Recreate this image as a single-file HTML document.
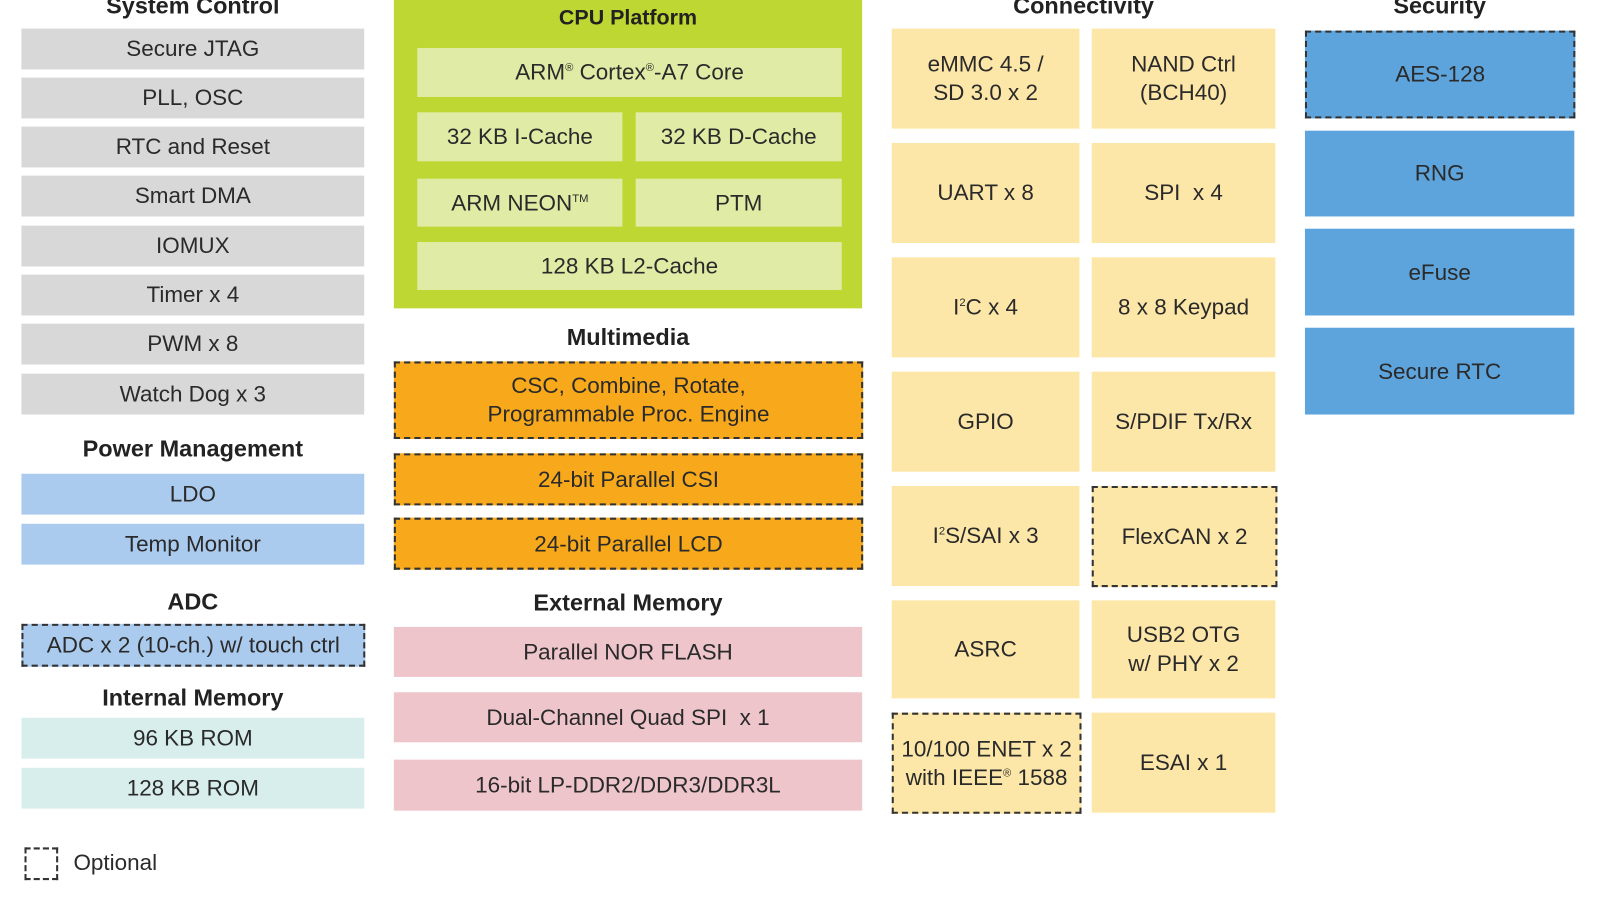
<!DOCTYPE html>
<html><head><meta charset="utf-8"><style>
body{margin:0;width:1600px;height:900px;background:#fff;position:relative;overflow:hidden;font-family:"Liberation Sans",sans-serif;color:#2a2a2a}
#w{position:absolute;left:0;top:0;width:1600px;height:900px;transform:scale(1.0203,1.021);transform-origin:0 0}
.b{position:absolute;display:flex;align-items:center;justify-content:center;text-align:center;font-size:22px;line-height:28px;box-sizing:border-box}
.t{position:absolute;font-weight:bold;font-size:23px;text-align:center;color:#222}
.g{background:#d8d8d8}.lb{background:#abcbee}.tl{background:#d7eeec}
.gi{background:#e0eba6}.o{background:#f8a91b}.p{background:#efc5cc}
.y{background:#fde7a8}.bl{background:#5ea4dc}
.d{border:2.5px dashed #333}
sup{font-size:11px;line-height:0;vertical-align:super}
</style></head><body><div id="w">
<div class="t" style="left:21px;width:336px;top:-8px">System Control</div>
<div class="b g" style="left:21px;top:28px;width:336px;height:40px">Secure JTAG</div>
<div class="b g" style="left:21px;top:76px;width:336px;height:40px">PLL, OSC</div>
<div class="b g" style="left:21px;top:124px;width:336px;height:40px">RTC and Reset</div>
<div class="b g" style="left:21px;top:172px;width:336px;height:40px">Smart DMA</div>
<div class="b g" style="left:21px;top:221px;width:336px;height:40px">IOMUX</div>
<div class="b g" style="left:21px;top:269px;width:336px;height:40px">Timer x 4</div>
<div class="b g" style="left:21px;top:317px;width:336px;height:40px">PWM x 8</div>
<div class="b g" style="left:21px;top:366px;width:336px;height:40px">Watch Dog x 3</div>
<div class="t" style="left:21px;width:336px;top:426px">Power Management</div>
<div class="b lb" style="left:21px;top:464px;width:336px;height:40px">LDO</div>
<div class="b lb" style="left:21px;top:513px;width:336px;height:40px">Temp Monitor</div>
<div class="t" style="left:21px;width:336px;top:576px">ADC</div>
<div class="b lb d" style="left:21px;top:611px;width:337px;height:42px">ADC x 2 (10-ch.) w/ touch ctrl</div>
<div class="t" style="left:21px;width:336px;top:670px">Internal Memory</div>
<div class="b tl" style="left:21px;top:703px;width:336px;height:40px">96 KB ROM</div>
<div class="b tl" style="left:21px;top:752px;width:336px;height:40px">128 KB ROM</div>
<div class="d" style="position:absolute;left:24px;top:830px;width:33px;height:32px;box-sizing:border-box"></div>
<div class="b" style="left:72px;top:831px;height:28px">Optional</div>

<div style="position:absolute;left:386px;top:0;width:459px;height:302px;background:#bed732"></div>
<div class="t" style="left:386px;width:459px;top:6px;font-size:21px">CPU Platform</div>
<div class="b gi" style="left:409px;top:47px;width:416px;height:48px"><span>ARM<sup>®</sup> Cortex<sup>®</sup>-A7 Core</span></div>
<div class="b gi" style="left:409px;top:110px;width:201px;height:48px">32 KB I-Cache</div>
<div class="b gi" style="left:623px;top:110px;width:202px;height:48px">32 KB D-Cache</div>
<div class="b gi" style="left:409px;top:175px;width:201px;height:47px"><span>ARM NEON<sup>TM</sup></span></div>
<div class="b gi" style="left:623px;top:175px;width:202px;height:47px">PTM</div>
<div class="b gi" style="left:409px;top:237px;width:416px;height:47px">128 KB L2-Cache</div>
<div class="t" style="left:386px;width:459px;top:317px">Multimedia</div>
<div class="b o d" style="left:386px;top:354px;width:460px;height:76px">CSC, Combine, Rotate,<br>Programmable Proc. Engine</div>
<div class="b o d" style="left:386px;top:444px;width:460px;height:51px">24-bit Parallel CSI</div>
<div class="b o d" style="left:386px;top:507px;width:460px;height:51px">24-bit Parallel LCD</div>
<div class="t" style="left:386px;width:459px;top:577px">External Memory</div>
<div class="b p" style="left:386px;top:614px;width:459px;height:49px">Parallel NOR FLASH</div>
<div class="b p" style="left:386px;top:678px;width:459px;height:49px">Dual-Channel Quad SPI &nbsp;x 1</div>
<div class="b p" style="left:386px;top:744px;width:459px;height:50px">16-bit LP-DDR2/DDR3/DDR3L</div>

<div class="t" style="left:874px;width:376px;top:-8px">Connectivity</div>
<div class="b y" style="left:874px;top:28px;width:184px;height:98px">eMMC 4.5 /<br>SD 3.0 x 2</div>
<div class="b y" style="left:1070px;top:28px;width:180px;height:98px">NAND Ctrl<br>(BCH40)</div>
<div class="b y" style="left:874px;top:140px;width:184px;height:98px">UART x 8</div>
<div class="b y" style="left:1070px;top:140px;width:180px;height:98px">SPI &nbsp;x 4</div>
<div class="b y" style="left:874px;top:252px;width:184px;height:98px"><span>I<sup>2</sup>C x 4</span></div>
<div class="b y" style="left:1070px;top:252px;width:180px;height:98px">8 x 8 Keypad</div>
<div class="b y" style="left:874px;top:364px;width:184px;height:98px">GPIO</div>
<div class="b y" style="left:1070px;top:364px;width:180px;height:98px">S/PDIF Tx/Rx</div>
<div class="b y" style="left:874px;top:476px;width:184px;height:98px"><span>I<sup>2</sup>S/SAI x 3</span></div>
<div class="b y d" style="left:1070px;top:476px;width:182px;height:99px">FlexCAN x 2</div>
<div class="b y" style="left:874px;top:588px;width:184px;height:96px">ASRC</div>
<div class="b y" style="left:1070px;top:588px;width:180px;height:96px">USB2 OTG<br>w/ PHY x 2</div>
<div class="b y d" style="left:874px;top:698px;width:186px;height:99px"><span style="white-space:nowrap">10/100 ENET x 2<br>with IEEE<sup>®</sup> 1588</span></div>
<div class="b y" style="left:1070px;top:698px;width:180px;height:98px">ESAI x 1</div>

<div class="t" style="left:1279px;width:264px;top:-8px">Security</div>
<div class="b bl d" style="left:1279px;top:30px;width:265px;height:86px">AES-128</div>
<div class="b bl" style="left:1279px;top:128px;width:264px;height:84px">RNG</div>
<div class="b bl" style="left:1279px;top:224px;width:264px;height:85px">eFuse</div>
<div class="b bl" style="left:1279px;top:321px;width:264px;height:85px">Secure RTC</div>
</div></body></html>
